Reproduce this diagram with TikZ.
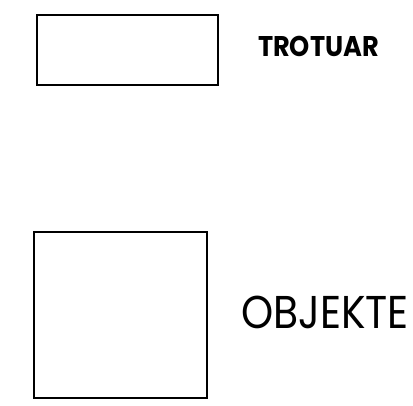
\documentclass[tikz,border=0pt]{standalone}
\usepackage{fontspec}
\setmainfont{Poppins}
\newfontfamily\smallfont{Poppins}[FakeStretch=0.9]
\newfontfamily\bigfont{Poppins}[FakeStretch=0.89]
\tikzset{
    area/.style={draw, line width=2.6pt, inner sep=0pt},
    legend/.style={inner sep=0pt, anchor=center}
}
\begin{document}
\begin{tikzpicture}[x=1pt,y=1pt]
        \useasboundingbox (0,0) rectangle (413,405);
        \node[area, minimum width=181pt, minimum height=70pt] (trotuar) at (127.5,355) {};
        \node[area, minimum width=173pt, minimum height=166pt] (objekte) at (120.5,90) {};
        \node[legend, font=\smallfont\fontsize{28.5}{28.5}\selectfont\bfseries] (trotuarlbl) at (318.5,359) {TROTUAR};
        \node[legend, font=\bigfont\fontsize{46}{46}\selectfont] (objektelbl) at (325,92.5) {OBJEKTE};
    \end{tikzpicture}
\end{document}
